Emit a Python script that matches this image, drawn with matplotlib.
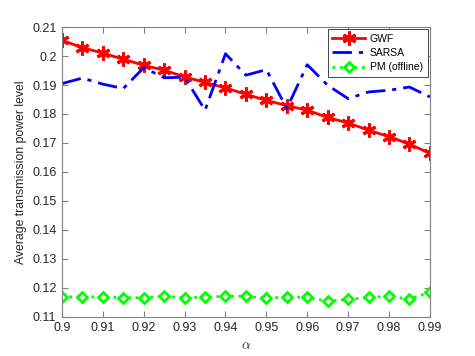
#!/usr/bin/env python3
import matplotlib
matplotlib.use("Agg")
import matplotlib.pyplot as plt
import numpy as np
from matplotlib.ticker import FuncFormatter

alpha = [0.9, 0.905, 0.91, 0.915, 0.92, 0.925, 0.93, 0.935, 0.94, 0.945,
         0.95, 0.955, 0.96, 0.965, 0.97, 0.975, 0.98, 0.985, 0.99]

gwf = [0.2054, 0.2029, 0.2010, 0.1989, 0.1968, 0.1951, 0.1928, 0.1909, 0.1890, 0.1868,
       0.1847, 0.1829, 0.1813, 0.1788, 0.1769, 0.1744, 0.1722, 0.1696, 0.1664]

sarsa = [0.1905, 0.1924, 0.1903, 0.1888, 0.1960, 0.1925, 0.1927, 0.1813, 0.2008, 0.1934,
         0.1953, 0.1819, 0.1970, 0.1899, 0.1853, 0.1876, 0.1882, 0.1893, 0.1859]

pm = [0.1169, 0.1169, 0.1169, 0.1166, 0.1166, 0.1171, 0.1166, 0.1168, 0.1171, 0.1171,
      0.1164, 0.1169, 0.1167, 0.1154, 0.1160, 0.1167, 0.1171, 0.1161, 0.1185]

xticks = [0.9, 0.91, 0.92, 0.93, 0.94, 0.95, 0.96, 0.97, 0.98, 0.99]
yticks = [0.11, 0.12, 0.13, 0.14, 0.15, 0.16, 0.17, 0.18, 0.19, 0.2, 0.21]

plt.rcParams['font.family'] = ['Liberation Sans', 'DejaVu Sans']
plt.rcParams['mathtext.fontset'] = 'cm'

fig = plt.figure(figsize=(4.75, 3.56), dpi=100)
ax = fig.add_axes([0.1305, 0.110, 0.7745, 0.814])

ax.plot(alpha, gwf, color='red', linewidth=2, marker=(6, 2, 0), markersize=10,
        markeredgewidth=2.2, label='GWF')
ax.plot(alpha, sarsa, color='blue', linewidth=2, linestyle=(0, (7, 2.5, 1.5, 2.5)),
        label='SARSA')
ax.plot(alpha, pm, color='#00ff00', linewidth=2, linestyle=':', marker='D',
        markersize=5.5, markerfacecolor='white', markeredgewidth=2, label='PM (offline)')

ax.set_xlim(0.9, 0.99)
ax.set_ylim(0.11, 0.21)
ax.set_xticks(xticks)
ax.set_yticks(yticks)
fmt = FuncFormatter(lambda v, p: '%g' % round(v, 3))
ax.xaxis.set_major_formatter(fmt)
ax.yaxis.set_major_formatter(fmt)

gray = '#262626'
for sp in ax.spines.values():
    sp.set_color('#808080')
    sp.set_linewidth(0.8)
ax.tick_params(direction='in', top=True, right=True, labelsize=9,
               colors=gray, color='#808080', length=4, pad=4)

ax.set_xlabel(r'$\alpha$', fontsize=10, color=gray, labelpad=3)
ax.set_ylabel('Average transmission power level', fontsize=8.8, color=gray, labelpad=4)

leg = ax.legend(loc='upper right', fontsize=7.5, fancybox=False, framealpha=1,
                edgecolor='#262626', borderaxespad=0.2, handlelength=3.1,
                handletextpad=0.5, borderpad=0.45, labelspacing=0.4)
leg.get_frame().set_linewidth(0.6)

fig.savefig('out.png', dpi=100)
